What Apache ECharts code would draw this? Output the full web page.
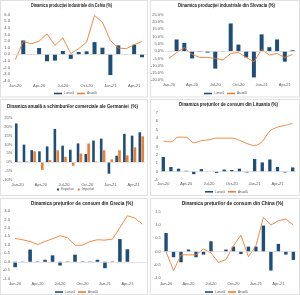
<!DOCTYPE html>
<html><head><meta charset="utf-8">
<script src="https://cdn.jsdelivr.net/npm/echarts@6/dist/echarts.min.js"></script>
<style>html,body{margin:0;padding:0;background:#fff}#c{width:300px;height:295px}</style>
</head><body><div id="c"></div>
<script>
// ---- data ----
const months = ['Jan-20','Feb-20','Mar-20','Apr-20','May-20','Jun-20','Jul-20','Aug-20','Sep-20','Oct-20','Nov-20','Dec-20','Jan-21','Feb-21','Mar-21','Apr-21','May-21','Jun-21'];
const months17 = months.slice(0, 17);

const titles = [
  'Dinamica producției industriale din Cehia (%)',
  'Dinamica producției industriale din Slovacia (%)',
  'Dinamica anuală a schimburilor comerciale ale Germaniei  (%)',
  'Dinamica prețurilor de consum din Lituania (%)',
  'Dinamica prețurilor de consum din Grecia (%)',
  'Dinamica prețurilor de consum din China (%)'
];

const czMonthly = [0, 2.1, 0.05, 0.95, -1.05, -0.95, 0.5, -0.7, 0.35, 0.45, 1.85, 1.0, -3.15, 1.35, 0.05, 1.45, -0.45];
const czAnnual  = [-0.8, 1.95, 1.6, 2.0, 3.1, 1.35, 2.5, 0.1, 0.85, 1.85, 5.9, 4.85, 2.1, 0.95, 0.85, 1.45, 1.95];

const skMonthly = [0, 8.0, 5.7, -5.0, -0.5, -1.0, -12.0, -0.3, 19.0, 4.5, -4.3, -18.0, 11.5, 2.7, 8.0, -7.2, 0.6];
const skAnnual  = [-5.0, -1.0, 2.5, -2.3, -4.3, -4.3, -5.0, -6.0, -1.6, -0.9, -4.3, -7.3, 1.1, -2.7, -1.6, -4.3, -2.3];

const deExports = [21.9, 9.9, 6.8, 6.1, 8.9, 18.8, 9.3, 7.0, 10.6, 4.6, 12.2, 13.3, -6.6, 3.6, 16.0, 15.0, 16.9];
const deImports = [0.2, 0.4, 6.1, -4.4, 1.1, 6.7, 3.0, -2.1, 4.8, 10.5, 0.3, 6.7, 1.5, 6.7, 3.8, 8.4, 14.6];

const ltMonthly = [1.75, 0.55, 0.35, 0.1, -0.3, 0.3, 0.0, -0.15, 0.25, 0.2, 0.35, -0.1, 1.5, 1.1, 1.45, 0.55, -0.1, 0.5];
const ltAnnual  = [3.64, 3.55, 4.12, 4.1, 3.44, 3.7, 3.8, 4.0, 4.0, 4.0, 3.75, 3.35, 3.12, 3.6, 4.84, 5.32, 5.52, 5.76];

const grMonthly = [-0.32, -0.02, 0.72, 0.02, 0.12, 0.38, -0.22, 0.02, 0.42, 0.02, 0.02, 0.12, -0.38, 0.02, 1.34, 0.74, null, null];
const grAnnual  = [1.38, 1.3, 1.2, 1.02, 1.2, 1.36, 1.54, 1.42, 0.98, 0.98, 1.2, 1.3, 1.28, 1.34, 2.02, 2.72, 2.58, 2.22];

const cnMonthly = [0.7, -0.21, -0.4, 0.08, -0.21, -0.11, 0.39, 0, 0.08, 0.19, -0.09, 0.19, 0.19, 0.98, -0.71, 0.29, -0.11, -0.31];
const cnAnnual  = [0.0, -0.71, -0.12, -0.12, -0.12, 0.1, -0.05, -0.4, -0.3, 0.22, 0.62, -0.19, 0.22, 1.29, 1.0, 1.16, 1.22, 1.0];

const legendMA = ['Lunară', 'Anuală'];
const legendDE = ['Exporturi', 'Importuri'];

// ---- styling / layout ----
const BLUE = '#1f4e79', ORANGE = '#ed7d31', LABEL = '#595959';
const TITLE_FAMILY = '"Liberation Sans", Arial, sans-serif';
const TITLE_SIZE = 6;
const panels = [
  {box:[0.5,0.5,147,96.5],  grid:{left:11, top:14.7, width:135, height:66},   t:[31,112,5.8],   lg:[54,92],   m:3.2, y:[-4,6,1], fmt:v=>v.toFixed(1), cats:months17, kind:'ma', bar:czMonthly, line:czAnnual, bw:4},
  {box:[150.5,0.5,149,96.5],grid:{left:165, top:14.7, width:131.4, height:65.6}, t:[178,275,5.5], lg:[204,92],  m:3,   y:[-20,25,5], fmt:v=>v.toFixed(1)+'%', cats:months17, kind:'ma', bar:skMonthly, line:skAnnual, bw:4},
  {box:[0.5,99.5,147,96],   grid:{left:12.1, top:118, width:133, height:61.7}, t:[7,138,106],   lg:[57,188],  m:3.6, y:[-10,25,5], fmt:v=>v+'%', cats:months17, kind:'de', bw:2.6},
  {box:[150.5,99.5,149,96], grid:{left:159.5, top:113, width:137, height:67},  t:[179,278,104.7],lg:[205,190.3],m:2, y:[-1,7,1], fmt:v=>String(v), cats:months, kind:'ma', bar:ltMonthly, line:ltAnnual, bw:3.3, smooth:true},
  {box:[0.5,198.5,147,96],  grid:{left:11.3, top:211, width:134.8, height:67.7},t:[31,133,203.3], lg:[55,290.5], m:3.3, y:[-1,3,0.5], fmt:v=>v.toFixed(1), cats:months, kind:'ma', bar:grMonthly, line:grAnnual, bw:3.6},
  {box:[150.5,198.5,149,96],grid:{left:162.3, top:211.7, width:134.8, height:66.6},t:[181.7,283.3,203.3],lg:[205,290.5],m:4, y:[-1,1.5,0.5], fmt:v=>v.toFixed(1), cats:months, kind:'ma', bar:cnMonthly, line:cnAnnual, bw:3.4}
];

// condense each title horizontally to the width it occupies in the reference
const mctx = document.createElement('canvas').getContext('2d');
function condense(text, target) {
  mctx.font = 'bold ' + TITLE_SIZE + 'px ' + TITLE_FAMILY;
  const w = mctx.measureText(text).width;
  return Math.min(1, target / w);
}

const option = {animation:false, textStyle:{fontFamily:'Liberation Sans, Arial, sans-serif'},
  grid:[], xAxis:[], yAxis:[], series:[], legend:[], graphic:[]};

const zeroLine = {silent:true, symbol:'none', data:[{yAxis:0}], label:{show:false},
  lineStyle:{color:'#d9d9d9', width:0.7, type:'solid'}};

panels.forEach((p, i) => {
  option.graphic.push({type:'rect', shape:{x:p.box[0], y:p.box[1], width:p.box[2], height:p.box[3]},
    style:{fill:'none', stroke:'#d9d9d9', lineWidth:0.8}, silent:true, z:-1});
  const sx = condense(titles[i], p.t[1] - p.t[0]);
  option.graphic.push({type:'text', x:(p.t[0] + p.t[1]) / 2, y:p.t[2], scaleX:sx, scaleY:1,
    style:{text:titles[i], textAlign:'center', textVerticalAlign:'middle',
    font:'bold ' + TITLE_SIZE + 'px ' + TITLE_FAMILY, fill:'#1a1a1a'}, silent:true});
  option.grid.push(Object.assign({containLabel:false}, p.grid));
  option.xAxis.push({type:'category', gridIndex:i, data:p.cats, boundaryGap:true,
    axisLine:{show:false}, axisTick:{show:false},
    axisLabel:{interval:2, fontSize:4, color:LABEL, margin:p.m}});
  option.yAxis.push({type:'value', gridIndex:i, min:p.y[0], max:p.y[1], interval:p.y[2],
    splitLine:{show:false}, axisLine:{show:false}, axisTick:{show:false},
    axisLabel:{fontSize:4, color:LABEL, margin:1.5, formatter:p.fmt}});
  if (p.kind === 'ma') {
    option.series.push({type:'bar', name:legendMA[0], xAxisIndex:i, yAxisIndex:i, data:p.bar, barWidth:p.bw,
      itemStyle:{color:BLUE}, markLine:zeroLine});
    option.series.push({type:'line', name:legendMA[1], xAxisIndex:i, yAxisIndex:i, data:p.line, symbol:'none',
      smooth:p.smooth ? 0.35 : false, lineStyle:{color:ORANGE, width:0.9}, itemStyle:{color:ORANGE}});
    option.legend.push({data:[{name:legendMA[0], itemStyle:{color:BLUE}}, {name:legendMA[1], itemStyle:{color:ORANGE}}],
      left:p.lg[0], top:p.lg[1], icon:'rect', itemWidth:8, itemHeight:1.6, itemGap:3,
      textStyle:{fontSize:3.2, color:LABEL, padding:[0,0,0,-3]}, padding:0});
  } else {
    option.series.push({type:'bar', name:legendDE[0], xAxisIndex:i, yAxisIndex:i, data:deExports, barWidth:p.bw,
      barGap:'10%', itemStyle:{color:BLUE}, markLine:zeroLine});
    option.series.push({type:'bar', name:legendDE[1], xAxisIndex:i, yAxisIndex:i, data:deImports, barWidth:p.bw,
      barGap:'10%', itemStyle:{color:ORANGE}});
    option.legend.push({data:[{name:legendDE[0], itemStyle:{color:BLUE}}, {name:legendDE[1], itemStyle:{color:ORANGE}}],
      left:p.lg[0], top:p.lg[1], icon:'rect', itemWidth:2, itemHeight:2, itemGap:4,
      textStyle:{fontSize:3.2, color:LABEL, padding:[0,0,0,-3]}, padding:0});
  }
});

const chart = echarts.init(document.getElementById('c'), null, {renderer:'canvas'});
chart.setOption(option);
</script></body></html>
